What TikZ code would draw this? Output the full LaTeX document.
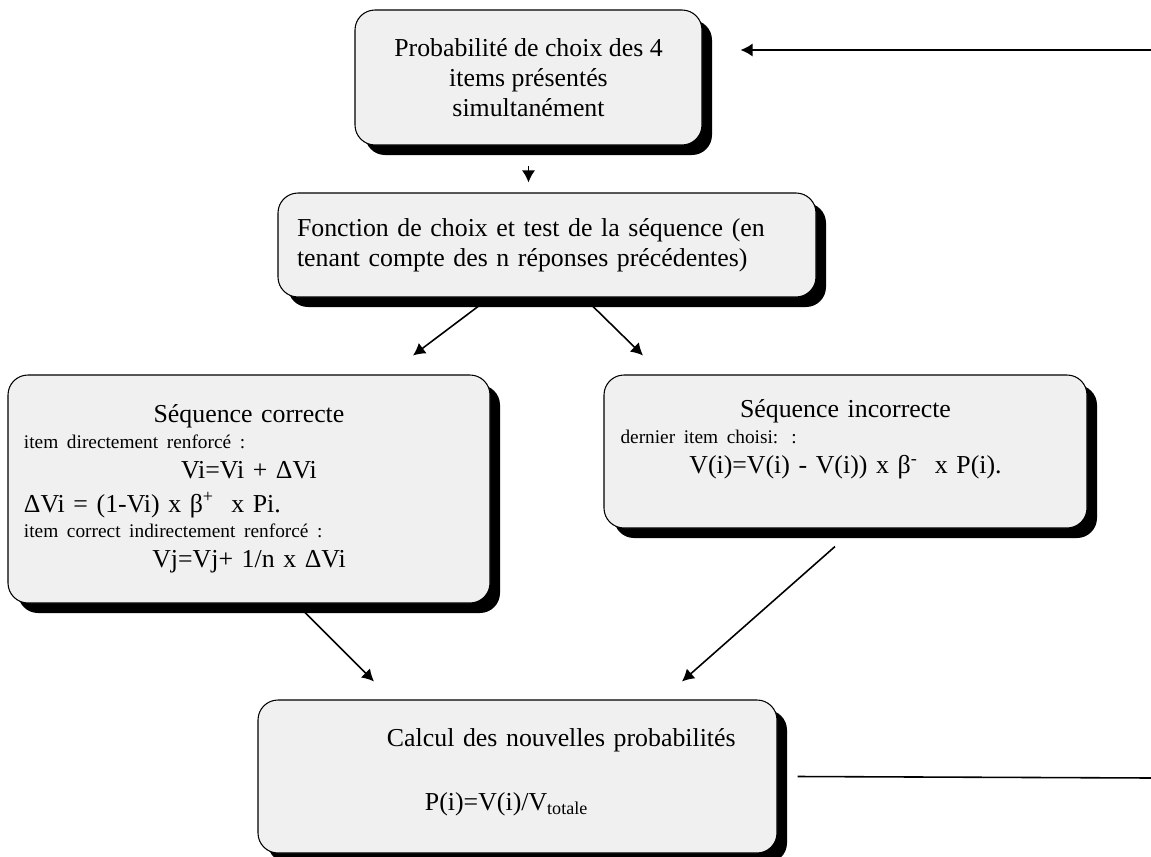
\documentclass[tikz,border=0pt]{standalone}
\usepackage{fontspec}
\setmainfont{Liberation Serif}
\usetikzlibrary{shadows,arrows.meta}

\definecolor{fondgris}{gray}{0.94}
\newcommand{\grand}{\fontsize{14.7}{17.2}\selectfont}
\newcommand{\petit}{\fontsize{11}{14.5}\selectfont}

\begin{document}
\begin{tikzpicture}[node distance=2cm, >={Latex[length=2.4mm,width=2.6mm]},
  boite/.style={rectangle, rounded corners=0.4cm, draw=black, line width=0.6pt, fill=fondgris, font=\grand,
    drop shadow={shadow xshift=0.2cm, shadow yshift=-0.2cm, fill=black, opacity=1}},
  fleche/.style={->, line width=0.9pt}]
\useasboundingbox (0,0) rectangle (23.02,-17.14);

\node (proba) [boite, minimum width=6.94cm, minimum height=2.7cm, align=center] at (10.57,-1.55) {Probabilité de choix des 4\\ items présentés\\ simultanément};
\node (fonction) [boite, minimum width=10.76cm, minimum height=2.08cm, text width=10cm, align=left, below of=proba, xshift=0.37cm, yshift=-1.35cm] {Fonction de choix et test de la séquence (en\\ tenant compte des n réponses précédentes)};

\node (correct) [boite, minimum width=9.64cm, minimum height=4.56cm, text width=9cm, align=left, below of=fonction, xshift=-5.96cm, yshift=-2.88cm] {{\centering Séquence correcte\par}
{\petit item directement renforcé :\par}
{\centering Vi=Vi + ΔVi\par}
\vspace{2pt}ΔVi = (1-Vi) x β\textsuperscript{+}\ \ x Pi.\par
{\petit item correct indirectement renforcé :\par}
{\centering Vj=Vj+ 1/n x ΔVi\par}};
\node (incorrect) [boite, minimum width=9.66cm, minimum height=3.06cm, text width=9cm, align=left, right of=correct, xshift=9.93cm, yshift=0.75cm] {{\centering Séquence incorrecte\par}
{\petit dernier item choisi: :\par}
{\centering V(i)=V(i) - V(i)) x β\textsuperscript{-}\ \ x P(i).\par}
\mbox{}};

\node (calcul) [boite, minimum width=10.38cm, minimum height=3.06cm, text width=10cm, align=left, below of=correct, xshift=5.37cm, yshift=-3.75cm] {\hspace*{2.39cm}Calcul des nouvelles probabilités\\[0.69cm]
\hspace*{3.15cm}P(i)=V(i)/V\textsubscript{totale}\\[-0.32cm]\mbox{}};

\coordinate (retourhaut) at (23.02,-1.0);
\coordinate (retourbas) at (23.02,-15.56);

\draw[fleche, shorten <=0.4cm, shorten >=0.2cm] (proba.south) -- (proba.south |- fonction.north);
\draw[fleche] ([xshift=-1.3cm, yshift=-0.12cm]fonction.south) -- ([xshift=3.28cm, yshift=0.38cm]correct.north);
\draw[fleche] ([xshift=0.86cm, yshift=-0.12cm]fonction.south) -- ([xshift=-4.05cm, yshift=0.38cm]incorrect.north);
\draw[fleche] ([xshift=1.12cm, yshift=-0.18cm]correct.south) -- ([xshift=-2.87cm, yshift=0.36cm]calcul.north);
\draw[fleche] ([xshift=-0.21cm, yshift=-0.36cm]incorrect.south) -- ([xshift=3.29cm, yshift=0.36cm]calcul.north);
\draw[fleche] (retourhaut) -- ([xshift=0.76cm, yshift=0.55cm]proba.east);
\draw[line width=0.9pt] ([xshift=0.4cm]calcul.east) -- (retourbas);

\end{tikzpicture}
\end{document}
